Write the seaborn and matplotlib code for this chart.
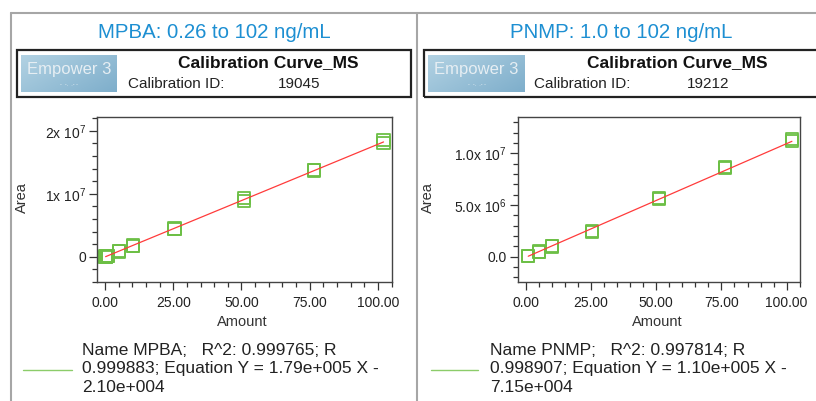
import numpy as np
import pandas as pd
import matplotlib
matplotlib.use("Agg")
import matplotlib.pyplot as plt
import seaborn as sns
from matplotlib.lines import Line2D
from matplotlib.patches import Rectangle
from matplotlib.ticker import FixedLocator, MultipleLocator
from matplotlib.colors import LinearSegmentedColormap

# ---------------- data ----------------
mpba_amount = [0.26, 0.26, 0.51, 0.51, 1.02, 1.02, 5.1, 5.1, 10.2, 10.2,
               25.5, 25.5, 51.0, 51.0, 76.5, 76.5, 102.0, 102.0]
mpba_area = [2.5e4, 3.0e4, 7.0e4, 8.0e4, 1.6e5, 1.7e5, 8.4e5, 8.9e5, 1.75e6, 1.80e6,
             4.45e6, 4.50e6, 8.9e6, 9.3e6, 1.37e7, 1.38e7, 1.81e7, 1.85e7]
mpba_slope, mpba_intercept = 1.79e5, -2.10e4

pnmp_amount = [1.02, 1.02, 5.1, 5.1, 10.2, 10.2, 25.5, 25.5, 51.0, 51.0,
               76.5, 76.5, 102.0, 102.0]
pnmp_area = [5.0e4, 6.0e4, 4.6e5, 4.9e5, 9.8e5, 1.00e6, 2.40e6, 2.45e6, 5.60e6, 5.65e6,
             8.55e6, 8.70e6, 1.12e7, 1.14e7]
pnmp_slope, pnmp_intercept = 1.10e5, -7.15e4

titles = ["MPBA: 0.26 to 102 ng/mL", "PNMP: 1.0 to 102 ng/mL"]
cal_ids = ["19045", "19212"]
legend_texts = [
    "Name MPBA;   R^2: 0.999765; R\n0.999883; Equation Y = 1.79e+005 X -\n2.10e+004",
    "Name PNMP;   R^2: 0.997814; R\n0.998907; Equation Y = 1.10e+005 X -\n7.15e+004",
]
x_ticks = [0, 25, 50, 75, 100]
x_ticklabels = ["0.00", "25.00", "50.00", "75.00", "100.00"]
mpba_yticks = [0, 1e7, 2e7]
mpba_yticklabels = ["0", r"1x 10$^{7}$", r"2x 10$^{7}$"]
pnmp_yticks = [0, 5e6, 1e7]
pnmp_yticklabels = ["0.0", r"5.0x 10$^{6}$", r"1.0x 10$^{7}$"]

# ---------------- style ----------------
sns.set_style("white")
plt.rcParams["font.family"] = ["Liberation Sans", "DejaVu Sans"]
plt.rcParams["mathtext.fontset"] = "custom"
plt.rcParams["mathtext.rm"] = "Liberation Sans"
plt.rcParams["mathtext.it"] = "Liberation Sans"
plt.rcParams["mathtext.bf"] = "Liberation Sans:bold"

W, H = 816, 401
fig = plt.figure(figsize=(W / 100, H / 100), dpi=100)
fig.patch.set_facecolor("white")


def fx(x):
    return x / W


def fy(y):
    return 1 - y / H


GREY = "#a6a6a6"
GREEN = "#6cbf45"
# outer frame
fig.add_artist(Line2D([fx(11), fx(816)], [fy(13), fy(13)], color=GREY, lw=1.5))
fig.add_artist(Line2D([fx(11), fx(11)], [fy(13), fy(401)], color=GREY, lw=1.5))
fig.add_artist(Line2D([fx(417), fx(417)], [fy(13), fy(401)], color=GREY, lw=1.5))

panels = [
    dict(amount=mpba_amount, area=mpba_area, slope=mpba_slope, icpt=mpba_intercept,
         yticks=mpba_yticks, yticklabels=mpba_yticklabels, ylim=(-4e6, 2.22e7), yminor=2e6,
         ax=(97, 117, 392, 282), box=(17, 50, 411, 97), title_x=214, logo=(21, 55, 117, 92),
         cc_x=268, id_label_x=128, id_x=278, ylab_x=22, leg=(23, 72, 82)),
    dict(amount=pnmp_amount, area=pnmp_area, slope=pnmp_slope, icpt=pnmp_intercept,
         yticks=pnmp_yticks, yticklabels=pnmp_yticklabels, ylim=(-2.45e6, 1.35e7), yminor=1e6,
         ax=(518, 117, 800, 282), box=(424, 50, 818, 97), title_x=621, logo=(428, 55, 525, 92),
         cc_x=677, id_label_x=534, id_x=687, ylab_x=428, leg=(431, 478, 490)),
]

yy, xx = np.mgrid[0:1:64j, 0:1:128j]
grad = 0.6 * xx + 0.4 * yy
logo_cmap = LinearSegmentedColormap.from_list("logo", ["#b2d2e3", "#7eaecb"])

for i, p in enumerate(panels):
    x0, y0, x1, y1 = p["ax"]
    ax = fig.add_axes([fx(x0), fy(y1), fx(x1 - x0), (y1 - y0) / H])
    df = pd.DataFrame({"Amount": p["amount"], "Area": p["area"]})
    xs = np.array([min(p["amount"]), max(p["amount"])])
    line_df = pd.DataFrame({"Amount": xs, "Area": p["slope"] * xs + p["icpt"]})
    sns.lineplot(data=line_df, x="Amount", y="Area", ax=ax, color="#ff3b3b", lw=0.9, zorder=3)
    sns.scatterplot(data=df, x="Amount", y="Area", ax=ax, marker="s", s=78,
                    facecolor="none", edgecolor=GREEN, linewidth=1.3, zorder=2)
    ax.set_xlim(-2.9, 105.1)
    ax.set_ylim(*p["ylim"])
    ax.xaxis.set_major_locator(FixedLocator(x_ticks))
    ax.set_xticklabels(x_ticklabels)
    ax.xaxis.set_minor_locator(MultipleLocator(5))
    ax.yaxis.set_major_locator(FixedLocator(p["yticks"]))
    ax.set_yticklabels(p["yticklabels"])
    ax.yaxis.set_minor_locator(MultipleLocator(p["yminor"]))
    ax.tick_params(which="both", direction="out", bottom=True, left=True, top=False, right=False,
                   colors="#333333", labelcolor="#222222", labelsize=10, width=0.9)
    ax.tick_params(which="major", length=6)
    ax.tick_params(axis="x", which="major", pad=4)
    ax.tick_params(axis="y", which="major", pad=2)
    ax.tick_params(which="minor", length=3.5)
    for s in ax.spines.values():
        s.set_color("#444444")
        s.set_linewidth(1.0)
    ax.set_xlabel("")
    ax.set_ylabel("")
    fig.text(fx((x0 + x1) / 2 - 2), fy(322), "Amount", ha="center", va="center",
             fontsize=10.5, color="#333333")
    fig.text(fx(p["ylab_x"]), fy(198), "Area", ha="center", va="center", rotation=90,
             fontsize=10.5, color="#333333")

    # title
    fig.text(fx(p["title_x"]), fy(33), titles[i], ha="center", va="center",
             fontsize=14.7, color="#1d8fd2")
    # header box
    bx0, by0, bx1, by1 = p["box"]
    fig.add_artist(Rectangle((fx(bx0), fy(by1)), fx(bx1 - bx0), (by1 - by0) / H,
                             transform=fig.transFigure, fill=False, edgecolor="#222222", lw=1.6))
    lx0, ly0, lx1, ly1 = p["logo"]
    lax = fig.add_axes([fx(lx0), fy(ly1), fx(lx1 - lx0), (ly1 - ly0) / H])
    lax.imshow(grad, aspect="auto", cmap=logo_cmap, extent=(0, 1, 0, 1), origin="upper")
    lax.set_axis_off()
    lax.text(0.5, 0.6, "Empower 3", ha="center", va="center", color="#e6eef3",
             fontsize=12, transform=lax.transAxes)
    lax.text(0.5, 0.2, "-  -.  .- -", ha="center", va="center", color="#eef4f8",
             fontsize=4, transform=lax.transAxes)
    fig.text(fx(p["cc_x"]), fy(63), "Calibration Curve_MS", ha="center", va="center",
             fontsize=12.5, fontweight="bold", color="#111111")
    fig.text(fx(p["id_label_x"]), fy(84), "Calibration ID:", ha="left", va="center",
             fontsize=11, color="#222222")
    fig.text(fx(p["id_x"]), fy(84), cal_ids[i], ha="left", va="center",
             fontsize=11, color="#222222")

    # legend
    l0, l1, tx = p["leg"]
    fig.add_artist(Line2D([fx(l0), fx(l1)], [fy(370), fy(370)], color="#8ccc6a", lw=1.0))
    fig.text(fx(tx), fy(369), legend_texts[i], ha="left", va="center",
             fontsize=12.5, color="#222222", linespacing=1.28)

fig.savefig("out.png", dpi=100)
